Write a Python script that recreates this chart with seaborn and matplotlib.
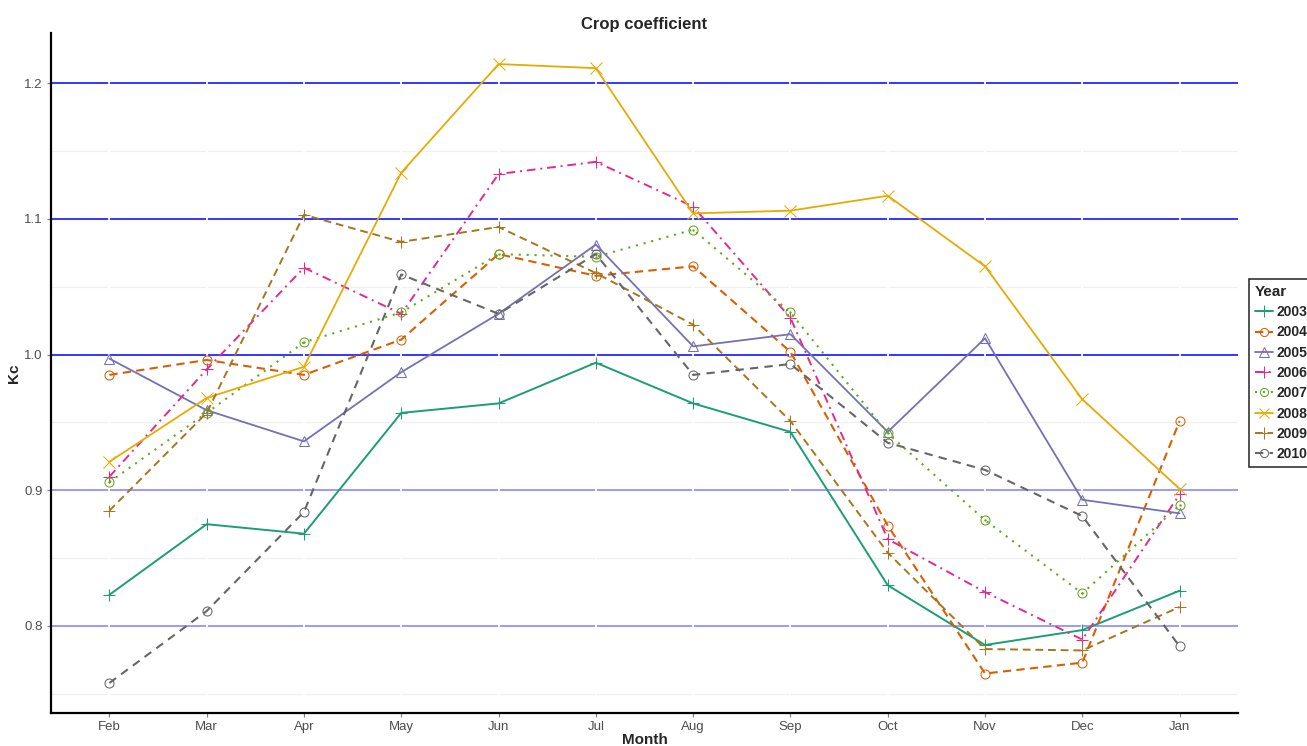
import numpy as np
import pandas as pd
import matplotlib
matplotlib.use("Agg")
import matplotlib.pyplot as plt
from matplotlib.ticker import MultipleLocator
import seaborn as sns

months = ["Feb", "Mar", "Apr", "May", "Jun", "Jul",
          "Aug", "Sep", "Oct", "Nov", "Dec", "Jan"]
years = ["2003", "2004", "2005", "2006", "2007", "2008", "2009", "2010"]

kc_2003 = [0.823, 0.875, 0.868, 0.957, 0.964, 0.994, 0.964, 0.943, 0.830, 0.786, 0.797, 0.826]
kc_2004 = [0.985, 0.996, 0.985, 1.011, 1.074, 1.058, 1.065, 1.002, 0.874, 0.765, 0.773, 0.951]
kc_2005 = [0.997, 0.959, 0.936, 0.987, 1.030, 1.081, 1.006, 1.015, 0.943, 1.012, 0.893, 0.883]
kc_2006 = [0.910, 0.989, 1.064, 1.030, 1.133, 1.142, 1.109, 1.027, 0.864, 0.825, 0.790, 0.897]
kc_2007 = [0.906, 0.957, 1.009, 1.031, 1.074, 1.072, 1.092, 1.031, 0.942, 0.878, 0.824, 0.889]
kc_2008 = [0.921, 0.968, 0.991, 1.134, 1.214, 1.211, 1.104, 1.106, 1.117, 1.065, 0.967, 0.901]
kc_2009 = [0.885, 0.957, 1.103, 1.083, 1.094, 1.060, 1.022, 0.951, 0.854, 0.783, 0.782, 0.814]
kc_2010 = [0.758, 0.811, 0.884, 1.059, 1.030, 1.074, 0.985, 0.993, 0.935, 0.915, 0.881, 0.785]

series = [kc_2003, kc_2004, kc_2005, kc_2006, kc_2007, kc_2008, kc_2009, kc_2010]
df = pd.DataFrame({
    "Month": months * len(years),
    "Year": np.repeat(years, len(months)),
    "Kc": np.concatenate(series),
})

sns.set_theme(style="white")
plt.rcParams["font.family"] = ["Liberation Sans", "DejaVu Sans"]

palette = dict(zip(years, sns.color_palette("Dark2", 8)))
markers = {"2003": "+", "2004": "o", "2005": "^", "2006": "+",
           "2007": "o", "2008": "x", "2009": "+", "2010": "o"}
msizes = {"2003": 9, "2004": 6.5, "2005": 7.5, "2006": 9,
          "2007": 6.5, "2008": 8, "2009": 9, "2010": 6.5}
styles = {"2003": "-", "2004": (0, (4, 2.5)), "2005": "-",
          "2006": (0, (4.5, 2.5, 1, 2.5)), "2007": (0, (1, 2.8)), "2008": "-",
          "2009": (0, (4, 2.5)), "2010": (0, (4, 3))}
widths = {"2003": 1.4, "2004": 1.5, "2005": 1.3, "2006": 1.4,
          "2007": 1.5, "2008": 1.3, "2009": 1.4, "2010": 1.5}

fig = plt.figure(figsize=(13.07, 7.46), dpi=100)
ax = fig.add_axes([51 / 1307, 1 - 713 / 746, (1238 - 51) / 1307, (713 - 33) / 746])

for yr in years:
    sub = df[df["Year"] == yr]
    sns.lineplot(data=sub, x="Month", y="Kc", sort=False, color=palette[yr],
                 marker=markers[yr], markersize=msizes[yr], markerfacecolor="none",
                 markeredgecolor=palette[yr], markeredgewidth=0.75,
                 linestyle=styles[yr], linewidth=widths[yr], label=yr,
                 legend=False, ax=ax)

# centre dot for the 2007 circles
sub07 = df[df["Year"] == "2007"]
sns.scatterplot(data=sub07, x="Month", y="Kc", color=palette["2007"], s=3,
                linewidth=0, ax=ax, legend=False, zorder=5)

ax.set_xlim(-0.6, 11.6)
ax.set_ylim(0.7359, 1.2369)
ax.yaxis.set_major_locator(MultipleLocator(0.1))
ax.yaxis.set_minor_locator(MultipleLocator(0.05))
ax.set_yticks([0.8, 0.9, 1.0, 1.1, 1.2])
ax.set_yticklabels(["0.8", "0.9", "1.0", "1.1", "1.2"])

# grid: blue major lines, faint minor lines, white month lines
ax.grid(axis="y", which="major", linewidth=1.1)
ax.grid(axis="y", which="minor", color="#f0f0f0", linewidth=0.9)
ax.grid(axis="x", which="major", color="white", linewidth=1.3)
for val, gl in zip(ax.get_yticks(), ax.yaxis.get_gridlines()):
    gl.set_color("#0000ff" if val > 0.95 else "#7f7fff")
ax.yaxis.set_zorder(0.4)
ax.xaxis.set_zorder(0.45)

for side in ["top", "right"]:
    ax.spines[side].set_visible(False)
for side in ["left", "bottom"]:
    ax.spines[side].set_color("black")
    ax.spines[side].set_linewidth(1.6)

ax.tick_params(axis="both", which="major", length=3, width=0.8, color="#7f7f7f",
               labelsize=9.5, labelcolor="#4d4d4d", pad=3, left=True, bottom=True)
ax.tick_params(axis="y", which="minor", length=0)

ax.set_title("Crop coefficient", fontsize=12, fontweight="bold", pad=3)
ax.set_xlabel("Month", fontsize=11, fontweight="bold", labelpad=0)
ax.set_ylabel("Kc", fontsize=11, fontweight="bold", labelpad=2)

handles = [ln for ln in ax.get_lines() if ln.get_label() in years]
leg = ax.legend(handles, [h.get_label() for h in handles],
                loc="center left", bbox_to_anchor=(1249 / 1307, 1 - 373 / 746),
                bbox_transform=fig.transFigure, title="Year", frameon=True,
                fancybox=False, fontsize=10, title_fontsize=11,
                handlelength=1.3, handletextpad=0.3, labelspacing=0.45,
                borderpad=0.4, borderaxespad=0, markerscale=0.9)
leg.get_title().set_fontweight("bold")
leg._legend_box.align = "left"
leg.get_frame().set_edgecolor("black")
leg.get_frame().set_linewidth(1.2)
for t in leg.get_texts():
    t.set_fontweight("bold")

fig.savefig("out.png", dpi=100)
